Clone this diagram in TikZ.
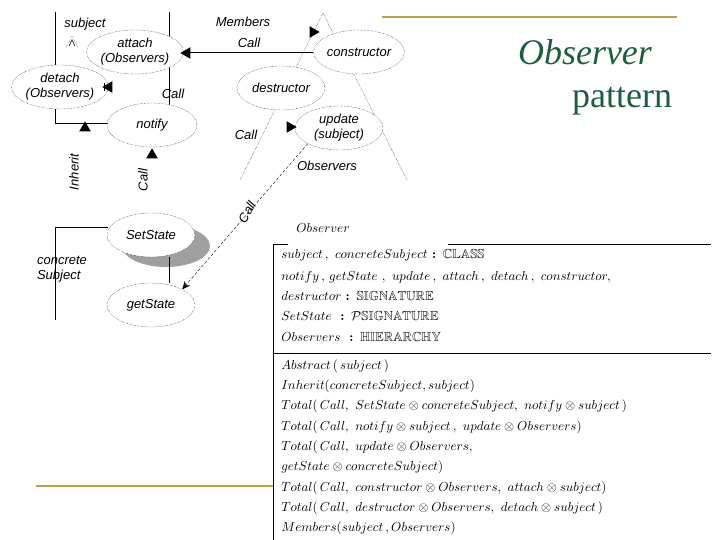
\documentclass[tikz,border=0pt]{standalone}
\usepackage{fontspec}
\usepackage{amssymb}
\newfontfamily\lsans{Liberation Sans}
\newfontfamily\lserif{Liberation Serif}
\usetikzlibrary{shapes.geometric,arrows.meta}
\definecolor{gold}{HTML}{B8A050}
\definecolor{titlegreen}{HTML}{1E5E40}
\tikzset{
  ell/.style={ellipse,draw,densely dotted,thin,fill=white,minimum width=88pt,minimum height=44pt,inner sep=0pt,align=center,font=\lsans\itshape\fontsize{13}{15}\selectfont},
  lbl/.style={font=\lsans\itshape\fontsize{13}{15}\selectfont,inner sep=1pt,align=left},
  tri/.style={fill=black,isosceles triangle,inner sep=0pt,minimum width=9pt,minimum height=10pt,isosceles triangle apex angle=60},
  boxt/.style={anchor=west,inner sep=0pt,scale=1.3,transform shape},
  thinl/.style={line width=0.5pt},
  dl/.style={densely dotted,thin}
}
\begin{document}
\begin{tikzpicture}[x=1pt,y=-1pt]
\useasboundingbox (0,0) rectangle (720,540);
% gold lines
\draw[gold,line width=2pt] (382,17) -- (677,17);
\draw[gold,line width=2pt] (36,486) -- (273,486);
% title
\node[text=titlegreen,font=\lserif\itshape\fontsize{36}{38}\selectfont] (t1) at (585,52) {Observer};
\node[text=titlegreen,font=\lserif\fontsize{36}{38}\selectfont] (t2) at (622,101) {pattern};
% left frame lines
\draw[thinl] (55,12) -- (55,123) -- (108,123);
\draw[thinl] (169,12) -- (169,105);
% Observers triangle
\draw[dl] (323,13) -- (240,180);
\draw[dl] (323,13) -- (407,180);
% ellipses
\node[ell] (attach) at (135,52) {attach\\(Observers)};
\node[ell] (detach) at (60,87) {detach\\(Observers)};
\node[ell,minimum width=90pt] (notify) at (152,125) {notify};
\node[ell] (constructor) at (359,52) {constructor};
\node[ell] (destructor) at (281,88) {destructor};
\node[ell] (update) at (339,128) {update\\(subject)};
% shadow + setstate
\fill[gray!75] (166,246) ellipse (44pt and 21pt);
\node[ell] (setstate) at (151,235) {SetState};
\node[ell] (getstate) at (151,305) {getState};
% concrete subject frame
\draw[thinl] (55,227) -- (108,227);
\draw[thinl] (55,227) -- (55,320);
\draw[thinl] (169,257) -- (169,283);
% labels
\node[lbl] (subj) at (85,24) {subject};
\draw[dl] (66,48) -- (72,36) -- (78,48);
\draw[thinl] (69,46) -- (72,40) -- (75,46);
\node[lbl] (call1) at (173,94) {Call};
\node[lbl] (members) at (243,22) {Members};
\node[lbl] (call2) at (249,43) {Call};
\node[lbl] (call3) at (246,135) {Call};
\node[lbl] (obs) at (327,166) {Observers};
\node[lbl,rotate=90] (inh) at (74,172) {Inherit};
\node[lbl,rotate=90] (call4) at (143,180) {Call};
\node[lbl,rotate=60] (call5) at (247,212) {Call};
\node[lbl] (conc) at (62,269) {concrete\\Subject};
% connectors
\draw[thinl] (constructor.west) -- (attach.east);
\node[tri,rotate=180] (a1) at (187,53) {};
\node[tri,rotate=180] (a2) at (109,87) {};
\draw[thinl] (104,83) -- (104,91);
\node[tri,rotate=90] (a3) at (85,128) {};
\node[tri,rotate=90] (a4) at (152,155) {};
\node[tri] (a5) at (313,32) {};
\node[tri] (a6) at (290,127) {};
\draw[densely dashed,thin,-{Stealth[length=8pt,width=7pt]}] (update.south west) -- (getstate.north east);
% box
\draw[thinl] (273,244) -- (288,244);
\draw[thinl] (448,244) -- (711,244);
\draw[thinl] (273,244) -- (273,540);
\draw[thinl] (273,353) -- (711,353);
\node[boxt] (ob) at (296,228) {$Observer$};
\node[boxt] (l1) at (281,255) {$subject\,,\ concreteSubject$ \textbf{: $\mathbb{CLASS}$}};
\node[boxt] (l2) at (281,277) {$notify\,,\,getState\ ,\ update\,,\ attach\,,\ detach\,,\ constructor,$};
\node[boxt] (l3) at (281,296) {$destructor$ \textbf{: $\mathbb{SIGNATURE}$}};
\node[boxt] (l4) at (281,316) {$SetState$ \ \textbf{: $\mathcal{P}\mathbb{SIGNATURE}$}};
\node[boxt] (l5) at (281,337) {$Observers$ \ \textbf{: $\mathbb{HIERARCHY}$}};
\node[boxt] (m1) at (281,366) {$Abstract\,(\,subject\,)$};
\node[boxt] (m2) at (281,386) {$Inherit(concreteSubject,subject)$};
\node[boxt] (m3) at (281,406) {$Total(\,Call,\ SetState\otimes concreteSubject,\ notify\otimes subject\,)$};
\node[boxt] (m4) at (281,427) {$Total(\,Call,\ notify\otimes subject\,,\ update\otimes Observers)$};
\node[boxt] (m5) at (281,447) {$Total(\,Call,\ update\otimes Observers,$};
\node[boxt] (m6) at (281,467) {$getState\otimes concreteSubject)$};
\node[boxt] (m7) at (281,488) {$Total(\,Call,\ constructor\otimes Observers,\ attach\otimes subject)$};
\node[boxt] (m8) at (281,508) {$Total(\,Call,\ destructor\otimes Observers,\ detach\otimes subject\,)$};
\node[boxt] (m9) at (281,528) {$Members(subject\,,Observers)$};
\end{tikzpicture}
\end{document}
